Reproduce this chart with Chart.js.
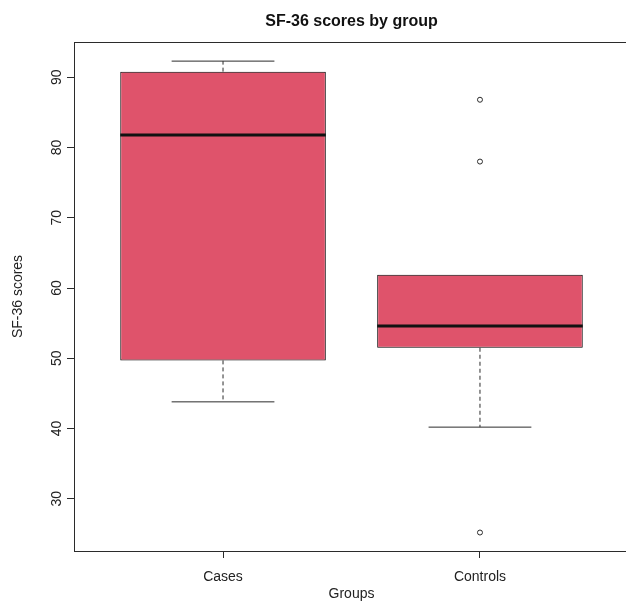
<!DOCTYPE html>
<html>
<head>
<meta charset="utf-8">
<title>SF-36 scores by group</title>
<script src="https://cdn.jsdelivr.net/npm/chart.js@4/dist/chart.umd.min.js"></script>
<style>
    body { margin: 0; background: #fff; }
    #frame { width: 626px; height: 601px; overflow: hidden; position: relative; }
    #inner { width: 703px; height: 601px; position: absolute; left: 0; top: 0; }
</style>
</head>
<body>
<div id="frame"><div id="inner"><canvas id="boxChart"></canvas></div></div>
<script>
// Boxplot values
const groups = ['Cases', 'Controls'];
const whiskerLow = [43.8, 40.2];
const q1 = [49.7, 51.5];
const medians = [81.8, 54.6];
const q3 = [90.8, 61.9];
const whiskerHigh = [92.3, 61.9];
const outliers = [[], [86.8, 78.0, 25.2]];
const yTicks = [30, 40, 50, 60, 70, 80, 90];

const boxColor = '#DF536B';
const ink = '#2b2b2b';
const textColor = '#222';
const fontFamily = '"Liberation Sans", Arial, sans-serif';
const boxHalf = 0.4;   // half box width, in x units
const capHalf = 0.2;   // half whisker cap width

// build line segments, a null point breaks the line
function segments(fn) {
    const pts = [];
    groups.forEach((g, i) => {
        fn(i + 1, i).forEach(seg => {
            pts.push(seg[0], seg[1], { x: seg[1].x, y: null });
        });
    });
    return pts;
}

// whiskers only where they leave the box
const whiskerData = segments((x, i) => [
    [{ x: x, y: q3[i] }, { x: x, y: whiskerHigh[i] }],
    [{ x: x, y: q1[i] }, { x: x, y: whiskerLow[i] }]
].filter(s => s[0].y !== s[1].y));
const capData = segments((x, i) => [
    whiskerHigh[i] !== q3[i] ? [{ x: x - capHalf, y: whiskerHigh[i] }, { x: x + capHalf, y: whiskerHigh[i] }] : null,
    whiskerLow[i] !== q1[i] ? [{ x: x - capHalf, y: whiskerLow[i] }, { x: x + capHalf, y: whiskerLow[i] }] : null
].filter(s => s));
const medianData = segments((x, i) => [
    [{ x: x - boxHalf, y: medians[i] }, { x: x + boxHalf, y: medians[i] }]
]);
const outlierData = [];
outliers.forEach((list, i) => list.forEach(v => outlierData.push({ x: i + 1, y: v })));

// frame round the plot, centred title and rotated y tick labels (R style)
const rStyle = {
    id: 'rStyle',
    afterDatasetsDraw(chart) {
        const { ctx, chartArea, scales } = chart;
        ctx.save();
        ctx.strokeStyle = ink;
        ctx.lineWidth = 1;
        ctx.strokeRect(Math.round(chartArea.left) + 0.5, Math.round(chartArea.top) + 0.5,
            Math.round(chartArea.right - chartArea.left), Math.round(chartArea.bottom - chartArea.top));

        ctx.fillStyle = '#111';
        ctx.font = 'bold 16px ' + fontFamily;
        ctx.textAlign = 'center';
        ctx.textBaseline = 'middle';
        ctx.fillText('SF-36 scores by group', (chartArea.left + chartArea.right) / 2, 22);

        ctx.fillStyle = textColor;
        ctx.font = '14px ' + fontFamily;
        yTicks.forEach(v => {
            ctx.save();
            ctx.translate(57, scales.y.getPixelForValue(v));
            ctx.rotate(-Math.PI / 2);
            ctx.fillText(String(v), 0, 0);
            ctx.restore();
        });
        ctx.restore();
    }
};

new Chart(document.getElementById('boxChart'), {
    type: 'bar',
    data: {
        datasets: [
            {
                type: 'line',
                data: medianData,
                borderColor: '#111',
                borderWidth: 3,
                pointRadius: 0,
                spanGaps: false,
                order: 0
            },
            {
                type: 'scatter',
                data: outlierData,
                pointStyle: 'circle',
                pointRadius: 2.5,
                pointBackgroundColor: '#fff',
                pointBorderColor: ink,
                pointBorderWidth: 1,
                showLine: false,
                order: 0
            },
            {
                type: 'line',
                data: capData,
                borderColor: ink,
                borderWidth: 1,
                pointRadius: 0,
                spanGaps: false,
                order: 1
            },
            {
                type: 'line',
                data: whiskerData,
                borderColor: ink,
                borderWidth: 1,
                borderDash: [4, 3],
                pointRadius: 0,
                spanGaps: false,
                order: 1
            },
            {
                type: 'bar',
                data: groups.map((g, i) => ({ x: i + 1, y: [q1[i], q3[i]] })),
                backgroundColor: boxColor,
                borderColor: '#000',
                borderWidth: 1,
                borderSkipped: false,
                categoryPercentage: 1,
                barPercentage: boxHalf * 2,
                order: 5
            }
        ]
    },
    options: {
        responsive: true,
        maintainAspectRatio: false,
        animation: false,
        layout: { padding: { top: 42, right: 74 } },
        plugins: {
            legend: { display: false },
            tooltip: { enabled: false },
            title: { display: false }
        },
        scales: {
            x: {
                type: 'linear',
                min: 0.42,
                max: 2.58,
                offset: false,
                afterBuildTicks: scale => { scale.ticks = groups.map((g, i) => ({ value: i + 1 })); },
                afterFit: scale => { scale.height = 50; },
                ticks: {
                    callback: v => groups[v - 1],
                    color: textColor,
                    padding: 11,
                    maxRotation: 0,
                    font: { family: fontFamily, size: 14 }
                },
                grid: { display: true, offset: false, drawOnChartArea: false, drawTicks: true, tickLength: 7, color: ink },
                border: { display: false },
                title: {
                    display: true,
                    text: 'Groups',
                    color: textColor,
                    padding: { top: 0, bottom: -2 },
                    font: { family: fontFamily, size: 14 }
                }
            },
            y: {
                min: 22.57,
                max: 95.02,
                afterBuildTicks: scale => { scale.ticks = yTicks.map(v => ({ value: v })); },
                afterFit: scale => { scale.width = 74; },
                ticks: { display: false },
                grid: { display: true, drawOnChartArea: false, drawTicks: true, tickLength: 7, color: ink },
                border: { display: false },
                title: {
                    display: true,
                    text: 'SF-36 scores',
                    color: textColor,
                    padding: { top: 10, bottom: 0 },
                    font: { family: fontFamily, size: 14 }
                }
            }
        }
    },
    plugins: [rStyle]
});
</script>
</body>
</html>
